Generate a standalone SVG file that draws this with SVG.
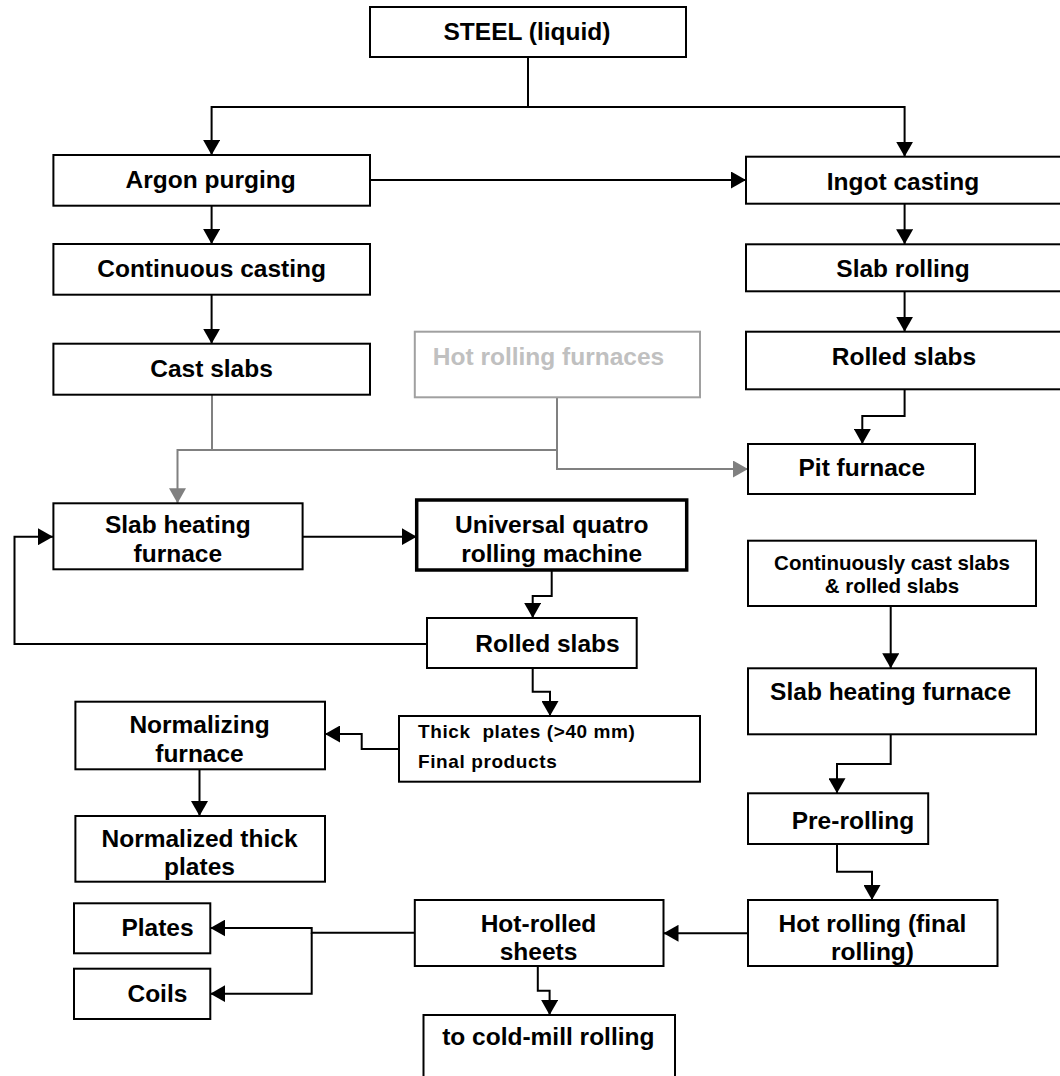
<svg xmlns="http://www.w3.org/2000/svg" width="1060" height="1076" viewBox="0 0 1060 1076">
<style>
.box{fill:#fff;stroke:#000;stroke-width:2}
.thick{stroke-width:3.5}
.gbox{fill:#fff;stroke:#a0a0a0;stroke-width:2}
text{font-family:"Liberation Sans",Arial,sans-serif;font-weight:bold;font-size:24.5px;fill:#000;text-anchor:middle}
.sm{font-size:20.5px}
.tp{font-size:19px;letter-spacing:0.6px;text-anchor:start}
.gt{fill:#c0c0c0}
.c{fill:none;stroke:#000;stroke-width:2}
.g{fill:none;stroke:#808080;stroke-width:2}
.a{marker-end:url(#ah)}
.ag{marker-end:url(#ahg)}
</style>
<defs>
<marker id="ah" markerUnits="userSpaceOnUse" viewBox="0 0 16 17" markerWidth="16" markerHeight="17" refX="15" refY="8.5" orient="auto"><path d="M0,0 L15,8.5 L0,17 z" fill="#000"/></marker>
<marker id="ahg" markerUnits="userSpaceOnUse" viewBox="0 0 16 17" markerWidth="16" markerHeight="17" refX="15" refY="8.5" orient="auto"><path d="M0,0 L15,8.5 L0,17 z" fill="#808080"/></marker>
</defs>
<rect width="1060" height="1076" fill="#fff"/>
<g id="connectors">
<path class="c a" d="M528,57 V107 H211.6 V155"/>
<path class="c a" d="M528,107 H904.6 V156.7"/>
<path class="c a" d="M370,180 H746"/>
<path class="c a" d="M211.6,205.7 V244"/>
<path class="c a" d="M211.6,294.7 V343.7"/>
<path class="c a" d="M904.6,203.7 V244.3"/>
<path class="c a" d="M904.6,291.3 V331.7"/>
<path class="c a" d="M904.6,389.3 V416 H862.3 V444"/>
<path class="g ag" d="M212,394.7 V450 H177.5 V503.3"/>
<path class="g" d="M177.5,450 H557"/>
<path class="g ag" d="M557,397.3 V469 H748"/>
<path class="c a" d="M302.6,536.7 H416.7"/>
<path class="c a" d="M551.7,570 V596 H532.7 V618"/>
<path class="c a" d="M427,644 H14.5 V536.7 H53"/>
<path class="c a" d="M532.7,668 V691.7 H550 V716"/>
<path class="c a" d="M399,749 H361.7 V734 H325"/>
<path class="c a" d="M199.5,769.3 V816"/>
<path class="c a" d="M890.7,606 V668.3"/>
<path class="c a" d="M890.7,734.3 V764 H837 V793.3"/>
<path class="c a" d="M837,844 V871.7 H872 V900"/>
<path class="c a" d="M748,933.3 H663.5"/>
<path class="c a" d="M414.8,932.7 H311.7 V928 H210.3"/>
<path class="c a" d="M311.7,932.7 V993.7 H210.3"/>
<path class="c a" d="M537.8,966 V990.7 H549.6 V1015"/>
</g>
<g id="steel"><rect class="box" x="370" y="7" width="316" height="50"/><text x="527" y="40">STEEL (liquid)</text></g>
<g id="argon"><rect class="box" x="53.4" y="155" width="316.6" height="50.7"/><text x="210.6" y="188">Argon purging</text></g>
<g id="ingot"><rect class="box" x="746" y="156.7" width="318" height="47"/><text x="903" y="190">Ingot casting</text></g>
<g id="contcast"><rect class="box" x="53.4" y="244" width="316.6" height="50.7"/><text x="211.6" y="276.7">Continuous casting</text></g>
<g id="slabrolling"><rect class="box" x="746" y="244.3" width="318" height="47"/><text x="903" y="276.7">Slab rolling</text></g>
<g id="castslabs"><rect class="box" x="53.4" y="343.7" width="316.6" height="51"/><text x="211.5" y="376.7">Cast slabs</text></g>
<g id="hotfurn"><rect class="gbox" x="414.8" y="331.7" width="285.2" height="65.6"/><text class="gt" x="548.5" y="365">Hot rolling furnaces</text></g>
<g id="rolledslabs1"><rect class="box" x="746" y="331.7" width="318" height="57.6"/><text x="904" y="365">Rolled slabs</text></g>
<g id="pit"><rect class="box" x="748" y="444" width="227" height="50"/><text x="861.8" y="476">Pit furnace</text></g>
<g id="slabheat1"><rect class="box" x="53.4" y="503.3" width="249.2" height="66"/><text x="177.8" y="533">Slab heating</text><text x="177.8" y="562">furnace</text></g>
<g id="universal"><rect class="box thick" x="416.7" y="500" width="270" height="70"/><text x="551.7" y="533.3">Universal quatro</text><text x="551.7" y="561.7">rolling machine</text></g>
<g id="contslabs"><rect class="box" x="748" y="540.7" width="288" height="65.3"/><text class="sm" x="892" y="570">Continuously cast slabs</text><text class="sm" x="892" y="593.3">&amp; rolled slabs</text></g>
<g id="rolledslabs2"><rect class="box" x="427" y="618" width="209.7" height="50"/><text x="547.5" y="651.7">Rolled slabs</text></g>
<g id="slabheat2"><rect class="box" x="748" y="668.3" width="288" height="66"/><text x="890.6" y="700">Slab heating furnace</text></g>
<g id="normfurn"><rect class="box" x="75.4" y="701.7" width="249.6" height="67.6"/><text x="199.5" y="733.3">Normalizing</text><text x="199.5" y="761.7">furnace</text></g>
<g id="thickplates"><rect class="box" x="399" y="716" width="301" height="65.7"/><text class="tp" x="418" y="738" xml:space="preserve">Thick  plates (&gt;40 mm)</text><text class="tp" x="418" y="768">Final products</text></g>
<g id="prerolling"><rect class="box" x="748" y="793.3" width="180.2" height="50.7"/><text x="853" y="829">Pre-rolling</text></g>
<g id="normplates"><rect class="box" x="75.4" y="816" width="249.6" height="65.7"/><text x="199.5" y="846.7">Normalized thick</text><text x="199.5" y="875">plates</text></g>
<g id="hotrolling"><rect class="box" x="748" y="900" width="249.5" height="66"/><text x="872.5" y="931.7">Hot rolling (final</text><text x="872.5" y="960">rolling)</text></g>
<g id="hotrolled"><rect class="box" x="414.8" y="900" width="248.7" height="66"/><text x="538.5" y="931.7">Hot-rolled</text><text x="538.5" y="960">sheets</text></g>
<g id="plates"><rect class="box" x="74" y="903.3" width="136.3" height="50"/><text x="157.5" y="936">Plates</text></g>
<g id="coils"><rect class="box" x="74" y="968.7" width="136.3" height="50.3"/><text x="157.4" y="1001.7">Coils</text></g>
<g id="coldmill"><rect class="box" x="423.5" y="1015" width="251.5" height="80"/><text x="548.3" y="1045">to cold-mill rolling</text></g>
</svg>
